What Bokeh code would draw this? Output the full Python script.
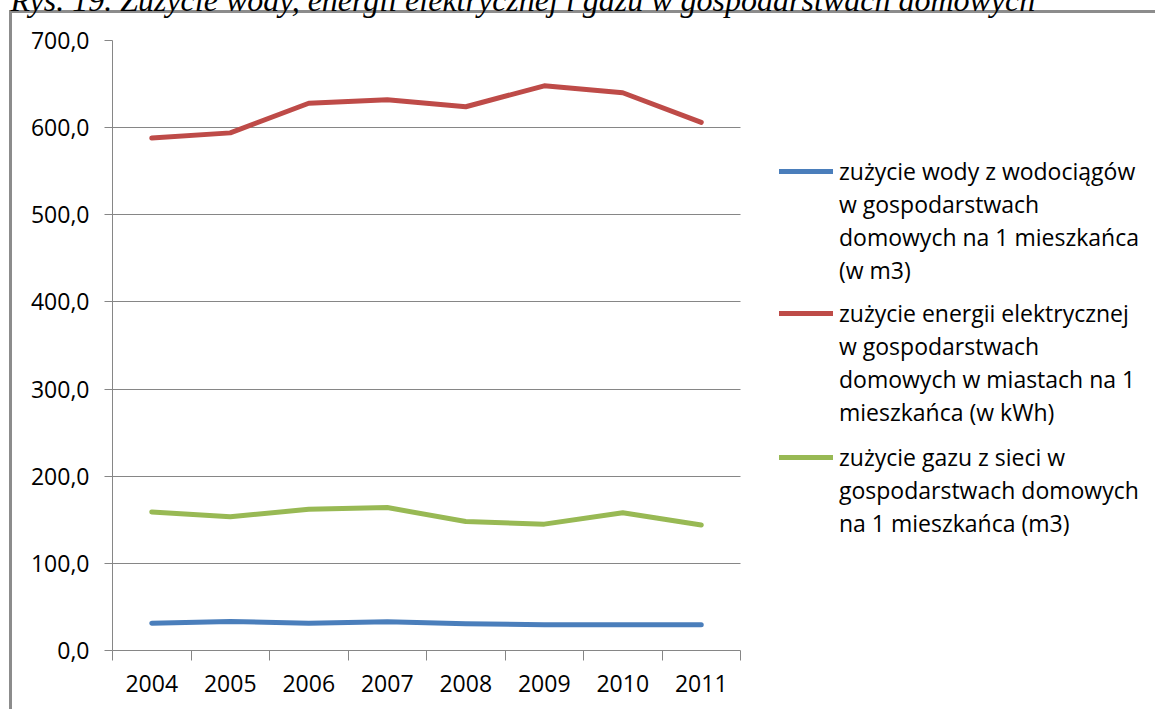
from bokeh.plotting import figure
from bokeh.models import ColumnDataSource, FixedTicker, Legend, LegendItem, Range1d, Grid, Label
from bokeh.embed import file_html
from bokeh.resources import INLINE

# ---- data ----
years = [2004, 2005, 2006, 2007, 2008, 2009, 2010, 2011]
year_labels = ["2004", "2005", "2006", "2007", "2008", "2009", "2010", "2011"]
water = [31.4, 33.2, 31.4, 33.0, 30.6, 29.5, 29.5, 29.5]
electricity = [588, 594, 628, 632, 624, 648, 640, 606]
gas = [159, 153.5, 162, 164, 148, 145, 158, 144]
y_ticks = [0, 100, 200, 300, 400, 500, 600, 700]
y_tick_labels = ["0,0", "100,0", "200,0", "300,0", "400,0", "500,0", "600,0", "700,0"]
series_lines = [
    ["zużycie wody z wodociągów", "w gospodarstwach", "domowych na 1 mieszkańca", "(w m3)"],
    ["zużycie energii elektrycznej", "w gospodarstwach", "domowych w miastach na 1", "mieszkańca (w kWh)"],
    ["zużycie gazu z sieci w", "gospodarstwach domowych", "na 1 mieszkańca (m3)"],
]
title_text = "Rys. 19. Zużycie wody, energii elektrycznej i gazu w gospodarstwach domowych"

colors = ["#4A7EBB", "#BE4B48", "#98B954"]
FONT = "Open Sans"
GRID = "#868686"

# ---- layout (pixels) ----
W, H = 1155, 709
LEFT, TOP, BOTTOM = 112, 40, 59
DATA_RIGHT_PX = 740            # where the plotting area ends (legend lives to the right)
X0, X1 = years[0] - 0.5, years[-1] + 0.5
x_end = X0 + (W - LEFT) * (X1 - X0) / (DATA_RIGHT_PX - LEFT)

p = figure(width=W, height=H, output_backend="svg", toolbar_location=None,
           x_range=Range1d(X0, x_end), y_range=Range1d(0, 700),
           min_border_left=LEFT, min_border_right=0, min_border_top=TOP,
           min_border_bottom=BOTTOM)
p.title = None
p.border_fill_alpha = 0
p.background_fill_color = "white"
p.outline_line_color = None
p.styles = {"box-shadow": "inset 9px 10px 0 0 #ffffff, inset 12px 13px 0 0 #8c8c8c",
            "background": "white"}

src = ColumnDataSource(dict(x=years, water=water, elec=electricity, gas=gas))
LW = 5
r1 = p.line("x", "water", source=src, line_color=colors[0], line_width=LW, line_join="round", line_cap="round")
r2 = p.line("x", "elec", source=src, line_color=colors[1], line_width=LW, line_join="round", line_cap="round")
r3 = p.line("x", "gas", source=src, line_color=colors[2], line_width=LW, line_join="round", line_cap="round")

# axes
p.xaxis.bounds = (X0, X1)
p.xaxis.ticker = FixedTicker(ticks=years, minor_ticks=[y - 0.5 for y in years] + [X1])
p.xaxis.major_label_overrides = {y: l for y, l in zip(years, year_labels)}
p.xaxis.major_tick_out = 0
p.xaxis.major_tick_in = 0
p.xaxis.minor_tick_out = 10
p.xaxis.minor_tick_in = 0
p.xaxis.minor_tick_line_color = GRID
p.xaxis.axis_line_color = GRID
p.xaxis.major_label_standoff = 14

p.yaxis.ticker = FixedTicker(ticks=y_ticks, minor_ticks=[])
p.yaxis.major_label_overrides = {t: l for t, l in zip(y_ticks, y_tick_labels)}
p.yaxis.major_tick_out = 8
p.yaxis.major_tick_in = 0
p.yaxis.major_tick_line_color = GRID
p.yaxis.axis_line_color = GRID
p.yaxis.major_label_standoff = 15

for ax in (p.xaxis, p.yaxis):
    ax.major_label_text_font = FONT
    ax.major_label_text_font_size = "23px"
    ax.major_label_text_color = "#000000"

p.xgrid.grid_line_color = None
ygrid = p.ygrid[0]
ygrid.ticker = FixedTicker(ticks=y_ticks)
if "cross_bounds" in Grid.properties():
    ygrid.grid_line_color = GRID
    ygrid.cross_bounds = (X0, X1)
else:
    ygrid.grid_line_color = None
    p.segment(x0=X0, x1=X1, y0=y_ticks[1:], y1=y_ticks[1:], line_color=GRID, line_width=1,
              level="underlay")

# legend: one legend per series, one item per text row
ROW_H = 31.3      # text box height of one 23px row
SPACING = 1
first_row_y = [173, 315.4, 459]
for lines, r, fy in zip(series_lines, [r1, r2, r3], first_row_y):
    items = [LegendItem(label=lines[0], renderers=[r])] + \
            [LegendItem(label=t, renderers=[]) for t in lines[1:]]
    n = len(lines)
    top = fy - ROW_H / 2
    bottom = top + n * ROW_H + (n - 1) * SPACING
    lg = Legend(items=items, location=(779 - LEFT, round((H - BOTTOM) - bottom)),
                padding=0, margin=0, spacing=SPACING,
                glyph_width=54, glyph_height=20, label_standoff=6,
                label_text_font=FONT, label_text_font_size="23px",
                label_text_color="#000000",
                border_line_color=None, background_fill_alpha=0)
    p.add_layout(lg, "center")

# figure caption, cut by the top edge as in the source image
title = Label(x=10 - LEFT, y=TOP + 1, x_units="screen", y_units="screen", text=title_text,
              text_font="Liberation Serif", text_font_style="italic",
              text_font_size="32px", text_baseline="alphabetic", text_color="#000000")
p.add_layout(title, "above")

open("out.html", "w").write(file_html(p, INLINE))
